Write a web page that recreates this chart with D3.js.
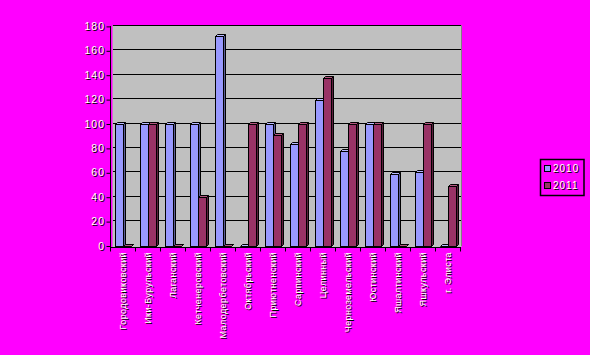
<!DOCTYPE html>
<html><head><meta charset="utf-8">
<script src="https://cdn.jsdelivr.net/npm/d3@7"></script>
<style>
html,body{margin:0;padding:0;background:#ff00ff;}
svg{display:block;}
text{font-family:"Liberation Sans",Arial,sans-serif;}
</style></head>
<body>
<svg id="c" width="590" height="355"></svg>
<script>
const categories = ["Городовиковский","Ики-Бурульский","Лаганский","Кетченеровский","Малодербетовский","Октябрьский","Приютненский","Сарпинский","Целинный","Черноземельский","Юстинский","Яшалтинский","Яшкульский","г. Элиста"];
const values2010 = [100,100,100,100,172,0,100,84,120,78,100,59,61,0];
const values2011 = [0,100,0,40,0,100,91,100,138,100,100,0,100,49];
const seriesNames = ["2010","2011"];
const yTicks = [0,20,40,60,80,100,120,140,160,180];

const svg = d3.select("#c");
const W = 590, H = 355;
svg.append("rect").attr("width",W).attr("height",H).attr("fill","#ff00ff");

const x = d3.scaleBand().domain(categories).range([110,460]).padding(0);
const yF = d3.scaleLinear().domain([0,180]).range([246,26.4]);
const yB = d3.scaleLinear().domain([0,180]).range([244.5,25]);

// back wall
svg.append("rect").attr("x",112.5).attr("y",25).attr("width",349).attr("height",222)
  .attr("fill","#c0c0c0");
svg.append("path").attr("d","M112.5,25.5H461.5V246").attr("fill","none").attr("stroke","#808080").attr("stroke-width",1);

// gridlines
svg.append("g").selectAll("line").data(yTicks.filter(d=>d>0)).join("line")
  .attr("x1",113).attr("x2",461).attr("y1",d=>Math.round(yB(d))+0.5).attr("y2",d=>Math.round(yB(d))+0.5)
  .attr("stroke","#000").attr("stroke-width",1);

// bars
const colors = [{front:"#9999ff",side:"#5c5c99",top:"#b8b8ff"},{front:"#993366",side:"#5c1f3d",top:"#b35680"}];
const depth = 2, bw = 8;
const offs = [4.5, 12.5];
const series = [values2010, values2011];
const gb = svg.append("g");
categories.forEach((c,i)=>{
  series.forEach((vals,s)=>{
    const v = vals[i];
    const x0 = Math.round(x(c)+offs[s])+0.5, x1 = x0+bw;
    const yt = Math.round(yF(v))+0.5, yb = Math.round(yF(0))+0.5;
    const col = colors[s];
    gb.append("path").attr("d",`M${x1},${yb}L${x1+depth},${yb-depth}L${x1+depth},${yt-depth}L${x1},${yt}Z`)
      .attr("fill",col.side).attr("stroke","#000").attr("stroke-width",1);
    gb.append("path").attr("d",`M${x0},${yt}L${x0+depth},${yt-depth}L${x1+depth},${yt-depth}L${x1},${yt}Z`)
      .attr("fill",col.top).attr("stroke","#000").attr("stroke-width",1);
    gb.append("rect").attr("x",x0).attr("y",yt).attr("width",bw).attr("height",Math.max(0,yb-yt))
      .attr("fill",col.front).attr("stroke","#000").attr("stroke-width",1);
  });
});

// axes
const yAxis = d3.axisLeft(yF).tickValues(yTicks).tickSize(4).tickPadding(3).tickFormat(d3.format("d"));
const gy = svg.append("g").attr("transform","translate(110.5,0)").call(yAxis);
gy.select(".domain").attr("stroke","#000").attr("d","M0,26V247.5");
gy.selectAll(".tick line").attr("stroke","#000");

const xAxis = d3.axisBottom(x).tickSize(0).tickFormat("");
const gx = svg.append("g").attr("transform","translate(0,247.5)").call(xAxis);
gx.select(".domain").attr("stroke","#000").attr("d","M110,0H461");
svg.append("g").selectAll("line").data(d3.range(15)).join("line")
  .attr("x1",i=>110.5+i*25).attr("x2",i=>110.5+i*25).attr("y1",247).attr("y2",251.5)
  .attr("stroke","#000");

// y labels
gy.selectAll(".tick text").remove();
const ylab = svg.append("g");
yTicks.forEach(t=>{
  [["#000",1,1],["#fff",0,0]].forEach(([f,dx,dy])=>{
    ylab.append("text").attr("x",105+dx).attr("y",yF(t)+3.5+dy).attr("text-anchor","end")
      .attr("font-size","10.5px").attr("letter-spacing","1px").attr("fill",f).text(t);
  });
});

// x labels
const xlab = svg.append("g");
categories.forEach(c=>{
  const cx = x(c)+x.bandwidth()/2+3.5;
  [["#000",1,1],["#fff",0,0]].forEach(([f,dx,dy])=>{
    xlab.append("text").attr("transform",`translate(${cx+dx},${252+dy}) rotate(-90)`)
      .attr("text-anchor","end").attr("font-size","9px").attr("letter-spacing","0.4px")
      .attr("fill",f).text(c);
  });
});

// legend
const lg = svg.append("g");
lg.append("rect").attr("x",540.5).attr("y",159.5).attr("width",43.5).attr("height",36)
  .attr("fill","none").attr("stroke","#000").attr("stroke-width",1.5);
seriesNames.forEach((n,i)=>{
  const yy = 165.5 + i*17;
  lg.append("rect").attr("x",544.5).attr("y",yy).attr("width",6).attr("height",6)
    .attr("fill",colors[i].front).attr("stroke","#000").attr("stroke-width",1);
  [["#000",1,1],["#fff",0,0]].forEach(([f,dx,dy])=>{
    lg.append("text").attr("x",553+dx).attr("y",yy+6+dy).attr("font-size","10px")
      .attr("letter-spacing","1px").attr("fill",f).text(n);
  });
});
</script>
</body></html>
